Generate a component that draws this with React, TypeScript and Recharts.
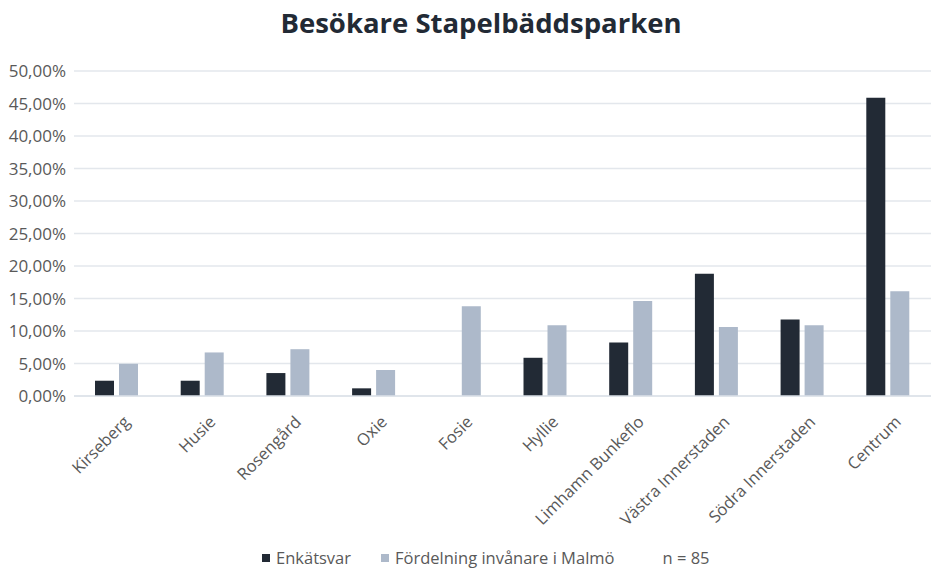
import React from 'react';
import { BarChart, Bar, XAxis, YAxis, CartesianGrid, Legend } from 'recharts';

const districts = [
  'Kirseberg',
  'Husie',
  'Rosengård',
  'Oxie',
  'Fosie',
  'Hyllie',
  'Limhamn Bunkeflo',
  'Västra Innerstaden',
  'Södra Innerstaden',
  'Centrum',
];
const surveyAnswers = [2.35, 2.35, 3.53, 1.18, 0, 5.88, 8.24, 18.82, 11.76, 45.88];
const populationShare = [4.95, 6.7, 7.2, 4.0, 13.8, 10.9, 14.6, 10.6, 10.9, 16.1];
const yTicks = [0, 5, 10, 15, 20, 25, 30, 35, 40, 45, 50];

const DARK = '#222a35';
const LIGHT = '#adb9ca';
const TEXT = '#595959';
const FONT = '"Open Sans", Lato, sans-serif';

const data = districts.map((name, i) => ({
  name,
  enkat: surveyAnswers[i],
  malmo: populationShare[i],
}));

const pct = (v: number) => v.toFixed(2).replace('.', ',') + '%';

const DistrictTick = (props: any) => {
  const { x, y, payload } = props;
  return (
    <g transform={`translate(${x + 14},${y + 19})`}>
      <text textAnchor="end" transform="rotate(-45)" fill={TEXT} fontSize={16.5} fontFamily={FONT}>
        {payload.value}
      </text>
    </g>
  );
};

const LegendBox = () => (
  <div
    style={{
      height: 23,
      display: 'flex',
      alignItems: 'center',
      fontFamily: FONT,
      fontSize: 16.5,
      lineHeight: '20px',
      color: TEXT,
      paddingLeft: 262,
      whiteSpace: 'nowrap',
    }}
  >
    <span style={{ display: 'inline-block', width: 8, height: 8, background: DARK, marginRight: 6 }} />
    <span style={{ marginRight: 30 }}>Enkätsvar</span>
    <span style={{ display: 'inline-block', width: 8, height: 8, background: LIGHT, marginRight: 6 }} />
    <span style={{ marginRight: 48 }}>Fördelning invånare i Malmö</span>
    <span>n = 85</span>
  </div>
);

export default function App() {
  return (
    <div style={{ position: 'relative', width: 931, height: 569, background: '#fff' }}>
      <style>{'body{margin:0}'}</style>
      <div
        style={{
          position: 'absolute',
          top: 4,
          left: 0,
          width: 962,
          textAlign: 'center',
          fontFamily: FONT,
          fontWeight: 700,
          fontSize: 27.5,
          color: '#222a35',
        }}
      >
        Besökare Stapelbäddsparken
      </div>
      <BarChart
        width={931}
        height={569}
        data={data}
        margin={{ top: 71, right: 0, bottom: 0, left: 0 }}
        barSize={19}
        barGap={5}
      >
        <CartesianGrid vertical={false} stroke="#e3e7ec" strokeWidth={1.3} />
        <XAxis
          dataKey="name"
          interval={0}
          height={150}
          tick={<DistrictTick />}
          tickLine={false}
          axisLine={{ stroke: '#dde2e8', strokeWidth: 1.3 }}
        />
        <YAxis
          width={74}
          domain={[0, 50]}
          ticks={yTicks}
          tickFormatter={pct}
          tick={{ fill: TEXT, fontSize: 17, fontFamily: FONT }}
          tickLine={false}
          axisLine={false}
        />
        <Legend verticalAlign="bottom" content={<LegendBox />} wrapperStyle={{ height: 23 }} />
        <Bar dataKey="enkat" name="Enkätsvar" fill={DARK} isAnimationActive={false} />
        <Bar dataKey="malmo" name="Fördelning invånare i Malmö" fill={LIGHT} isAnimationActive={false} />
      </BarChart>
    </div>
  );
}
